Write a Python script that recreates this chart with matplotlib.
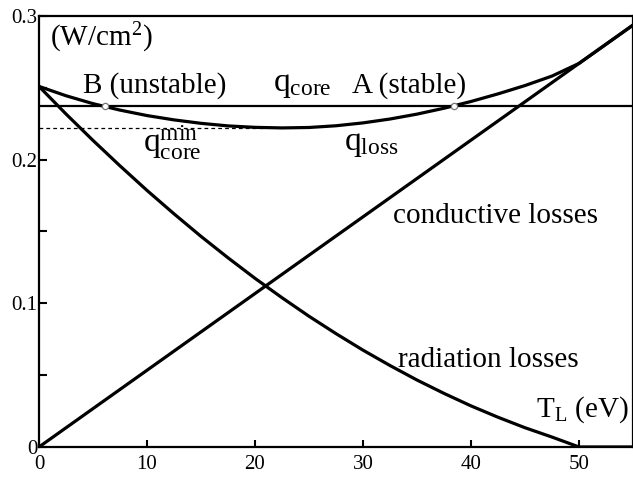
import matplotlib
matplotlib.use("Agg")
import matplotlib.pyplot as plt
from matplotlib.ticker import MultipleLocator

plt.rcParams['font.family'] = ['Liberation Serif', 'DejaVu Serif']
plt.rcParams['mathtext.fontset'] = 'custom'
plt.rcParams['mathtext.rm'] = 'Liberation Serif'
plt.rcParams['mathtext.it'] = 'Liberation Serif:italic'

# ---- data ----
T_grid = [0, 2.5, 5, 7.5, 10, 12.5, 15, 17.5, 20, 22.5, 25, 27.5, 30,
          32.5, 35, 37.5, 40, 42.5, 45, 47.5, 50, 55]
radiation = [0.251, 0.2318, 0.2134, 0.1957, 0.1786, 0.1623, 0.1466, 0.1317,
             0.1174, 0.1039, 0.0910, 0.0789, 0.0674, 0.0567, 0.0466, 0.0373,
             0.0286, 0.0207, 0.0134, 0.0069, 0.0, 0.0]
q_loss = [0.251, 0.2445, 0.2390, 0.2345, 0.2307, 0.2277, 0.2253, 0.2235,
          0.2225, 0.2221, 0.2224, 0.2236, 0.2256, 0.2283, 0.2317, 0.2358,
          0.2405, 0.2458, 0.2516, 0.2582, 0.2670, 0.2937]
T_cond = [0, 55]
conductive = [0.0, 0.2937]
q_core = 0.2373
q_core_min = 0.222
T_min_end = 21
T_points = [6.1, 38.4]          # B, A
x_ticks = [0, 10, 20, 30, 40, 50]
y_ticks = [0, 0.1, 0.2, 0.3]
y_tick_labels = ['0', '0.1', '0.2', '0.3']

fig = plt.figure(figsize=(6.33, 4.78), dpi=100)
ax = fig.add_axes([0.0616, 0.0649, 0.9384, 0.9016])

ax.plot(T_cond, conductive, color='black', lw=2.3, solid_capstyle='butt')
ax.plot(T_grid, radiation, color='black', lw=2.3)
ax.plot(T_grid, q_loss, color='black', lw=2.3)
ax.axhline(q_core, color='black', lw=1.6)
ax.plot([0, T_min_end], [q_core_min, q_core_min], color='black', lw=0.9,
        ls=(0, (3, 2.5)))
ax.plot(T_points, [q_core, q_core], ls='none', marker='o', ms=4.5,
        mfc='white', mec='#777777', mew=0.9, zorder=5)

ax.set_xlim(0, 55)
ax.set_ylim(0, 0.3)
ax.set_xticks(x_ticks)
ax.set_yticks(y_ticks)
ax.set_yticklabels(y_tick_labels)
ax.yaxis.set_minor_locator(MultipleLocator(0.05))
ax.tick_params(axis='both', which='both', direction='in', width=1.5,
               labelsize=15)
ax.tick_params(axis='x', which='major', length=5, pad=6)
ax.tick_params(axis='y', which='both', length=6, pad=1)
ax.tick_params(axis='x', which='minor', length=0)
for s in ax.spines.values():
    s.set_linewidth(1.6)

fs = 21
fq = 24
ax.text(1.0, 0.279, r'(W/cm$^{2}$)', fontsize=fs, ha='left', va='baseline')
ax.text(4.1, 0.2465, 'B (unstable)', fontsize=fs, ha='left', va='baseline')
ax.text(21.7, 0.2475, r'$\mathrm{q}_{\mathrm{core}}$', fontsize=fq,
        ha='left', va='baseline')
ax.text(29.0, 0.2465, 'A (stable)', fontsize=fs, ha='left', va='baseline')
ax.text(9.6, 0.205, r'$\mathrm{q}_{\mathrm{core}}^{\mathrm{min}}$',
        fontsize=fq, ha='left', va='baseline')
ax.text(28.2, 0.207, r'$\mathrm{q}_{\mathrm{loss}}$', fontsize=fq,
        ha='left', va='baseline')
ax.text(32.75, 0.156, 'conductive losses', fontsize=fs, ha='left',
        va='baseline')
ax.text(33.2, 0.0556, 'radiation losses', fontsize=fs, ha='left',
        va='baseline')
ax.text(46.0, 0.0208, r'$\mathrm{T}_{\mathrm{L}}$ (eV)', fontsize=fs,
        ha='left', va='baseline')

fig.savefig('out.png', dpi=100)
